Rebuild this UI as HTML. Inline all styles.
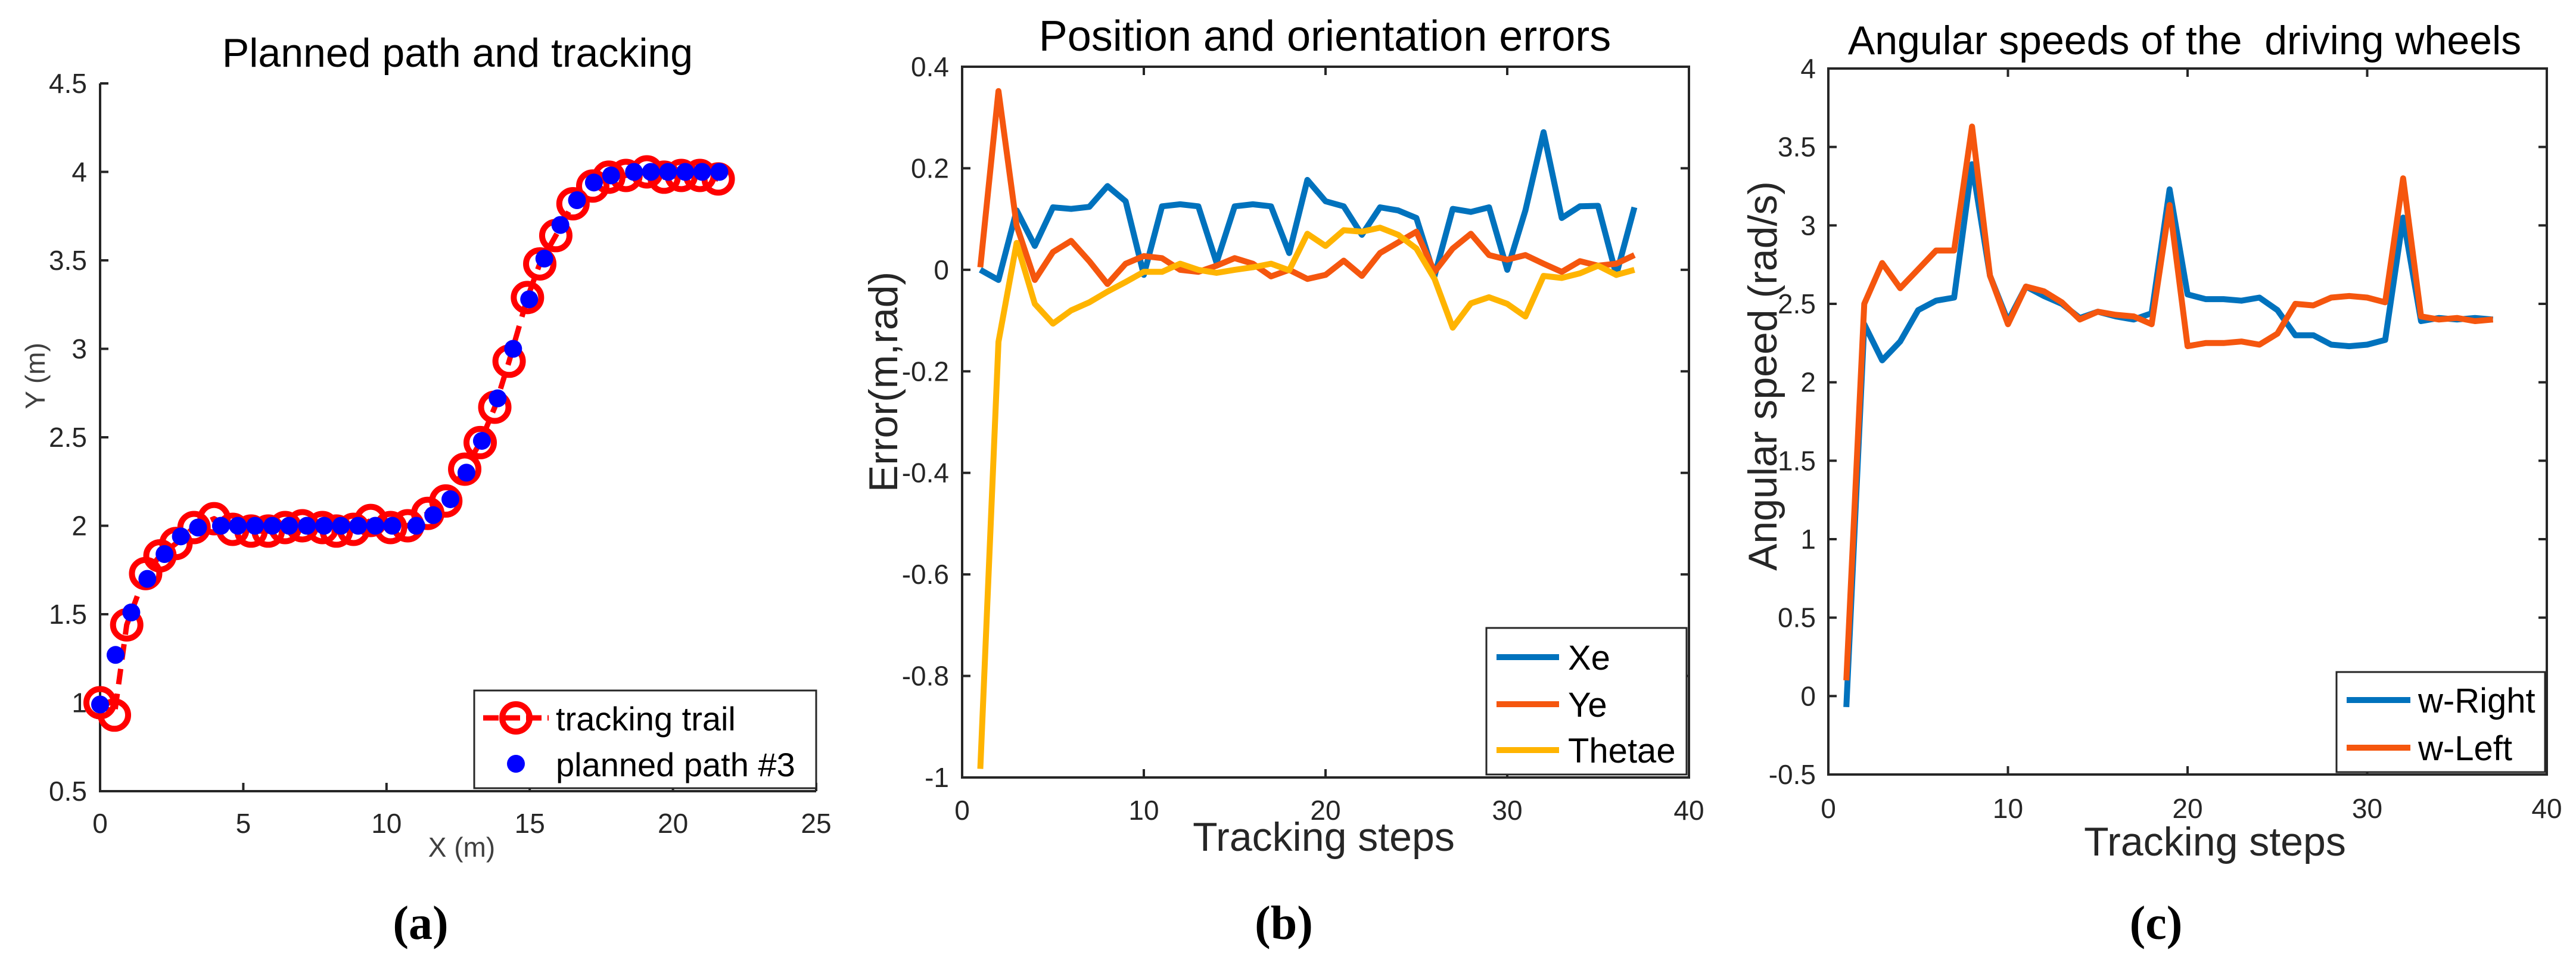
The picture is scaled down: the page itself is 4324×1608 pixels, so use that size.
<!DOCTYPE html>
<html><head><meta charset="utf-8"><style>
html,body{margin:0;padding:0;background:#fff;}
svg{display:block;font-family:"Liberation Sans",Arial,sans-serif;}
</style></head><body>
<svg id="fig" width="4324" height="1608" viewBox="0 0 4324 1608" xmlns="http://www.w3.org/2000/svg">
<rect width="4324" height="1608" fill="#fff"/>
<g id="pa"></g>
<g id="pb"></g>
<g id="pc"></g>
</svg>
<script>
// ---------- Panel (a) data ----------
const trailX = [0,0.5,0.93,1.59,2.09,2.65,3.28,3.98,4.63,5.27,5.87,6.46,7.06,7.76,8.25,8.85,9.45,10.14,10.74,11.44,12.07,12.73,13.27,13.78,14.28,14.92,15.35,15.91,16.51,17.2,17.76,18.36,19.09,19.69,20.29,20.94,21.58];
const trailY = [1.0,0.93,1.44,1.73,1.83,1.90,1.99,2.04,1.98,1.97,1.97,1.99,2.0,1.99,1.97,1.98,2.03,1.99,2.0,2.07,2.14,2.32,2.47,2.67,2.93,3.29,3.48,3.64,3.82,3.92,3.97,3.98,4.0,3.97,3.98,3.98,3.96];
const planX = [0,0.54,1.09,1.65,2.25,2.82,3.42,4.22,4.81,5.41,6.01,6.6,7.22,7.82,8.41,9.01,9.61,10.2,11.04,11.63,12.23,12.79,13.33,13.88,14.42,14.98,15.51,16.07,16.65,17.24,17.84,18.64,19.23,19.83,20.43,21.02,21.62];
const planY = [0.99,1.27,1.51,1.70,1.84,1.94,1.99,2.0,2.0,2.0,2.0,2.0,2.0,2.0,2.0,2.0,2.0,2.0,2.0,2.06,2.15,2.30,2.48,2.72,3.0,3.28,3.51,3.70,3.84,3.94,3.98,4.0,4.0,4.0,4.0,4.0,4.0];
const aXTicks = [0,5,10,15,20,25];
const aYTicks = [0.5,1,1.5,2,2.5,3,3.5,4,4.5];
const aYTickLabels = ["0.5","1","1.5","2","2.5","3","3.5","4","4.5"];

// ---------- Panel (b) data ----------
const steps = [1,2,3,4,5,6,7,8,9,10,11,12,13,14,15,16,17,18,19,20,21,22,23,24,25,26,27,28,29,30,31,32,33,34,35,36,37];
const xe = [0.0,-0.02,0.117,0.047,0.123,0.12,0.124,0.165,0.135,-0.01,0.125,0.129,0.125,0.014,0.125,0.129,0.125,0.033,0.177,0.135,0.125,0.069,0.123,0.117,0.102,-0.012,0.12,0.114,0.123,0.0,0.117,0.271,0.102,0.125,0.126,-0.01,0.123];
const ye = [0.005,0.352,0.087,-0.02,0.035,0.057,0.017,-0.028,0.012,0.027,0.023,0.0,-0.004,0.008,0.023,0.012,-0.013,0.0,-0.018,-0.01,0.018,-0.012,0.033,0.054,0.075,-0.004,0.042,0.071,0.029,0.02,0.029,0.012,-0.004,0.017,0.008,0.012,0.029];
const thetae = [-0.983,-0.142,0.053,-0.067,-0.106,-0.08,-0.064,-0.043,-0.024,-0.004,-0.004,0.012,0.0,-0.006,0.0,0.005,0.012,-0.001,0.071,0.047,0.078,0.075,0.083,0.069,0.042,-0.018,-0.114,-0.066,-0.054,-0.067,-0.092,-0.012,-0.016,-0.007,0.008,-0.01,0.0];
const bXTicks = [0,10,20,30,40];
const bYTicks = [-1,-0.8,-0.6,-0.4,-0.2,0,0.2,0.4];
const bYTickLabels = ["-1","-0.8","-0.6","-0.4","-0.2","0","0.2","0.4"];

// ---------- Panel (c) data ----------
const wRight = [-0.07,2.37,2.14,2.26,2.46,2.52,2.54,3.39,2.68,2.39,2.61,2.55,2.5,2.41,2.45,2.42,2.40,2.44,3.23,2.56,2.53,2.53,2.52,2.54,2.46,2.30,2.30,2.24,2.23,2.24,2.27,3.05,2.39,2.41,2.40,2.41,2.40];
const wLeft = [0.10,2.50,2.76,2.60,2.72,2.84,2.84,3.63,2.68,2.37,2.61,2.58,2.51,2.40,2.45,2.43,2.42,2.37,3.13,2.23,2.25,2.25,2.26,2.24,2.31,2.50,2.49,2.54,2.55,2.54,2.51,3.30,2.42,2.40,2.41,2.39,2.40];
const cXTicks = [0,10,20,30,40];
const cYTicks = [-0.5,0,0.5,1,1.5,2,2.5,3,3.5,4];
const cYTickLabels = ["-0.5","0","0.5","1","1.5","2","2.5","3","3.5","4"];

const NS = "http://www.w3.org/2000/svg";
function mk(parent, tag, attrs, text){
  const e = document.createElementNS(NS, tag);
  for (const k in attrs) e.setAttribute(k, attrs[k]);
  if (text !== undefined) e.textContent = text;
  parent.appendChild(e);
  return e;
}
function lin(d0,d1,r0,r1){ return v => r0 + (v-d0)/(d1-d0)*(r1-r0); }
const AX = "#262626";

function axes(g, L, R, T, B, sx, sy, xt, xtl, yt, ytl, box, xLabY, yLabX){
  let e;
  if (box){
    e = mk(g,'rect',{x:L,y:T,width:R-L,height:B-T,fill:'none',stroke:AX,'stroke-width':4});
     
  } else {
    e = mk(g,'path',{d:`M${L},${T} L${L},${B} L${R},${B}`,fill:'none',stroke:AX,'stroke-width':4});
     
  }
  xt.forEach((v,i)=>{
    const x = sx(v);
    e = mk(g,'line',{x1:x,y1:B,x2:x,y2:B-14,stroke:AX,'stroke-width':4});
     
    if (box){ e = mk(g,'line',{x1:x,y1:T,x2:x,y2:T+14,stroke:AX,'stroke-width':4});
        }
    e = mk(g,'text',{x:x,y:xLabY,'font-size':46,fill:AX,'text-anchor':'middle'},xtl[i]);
     
  });
  yt.forEach((v,i)=>{
    const y = sy(v);
    e = mk(g,'line',{x1:L,y1:y,x2:L+14,y2:y,stroke:AX,'stroke-width':4});
     
    if (box){ e = mk(g,'line',{x1:R,y1:y,x2:R-14,y2:y,stroke:AX,'stroke-width':4});
        }
    e = mk(g,'text',{x:yLabX,y:y+16,'font-size':46,fill:AX,'text-anchor':'end'},ytl[i]);
     
  });
}
function txt(g,x,y,s,size,name,extra){
  const a = Object.assign({x:x,y:y,'font-size':size,'text-anchor':'middle',fill:'#000'},extra||{});
  const e = mk(g,'text',a,s);
   
  return e;
}
function poly(g,xs,ys,sx,sy,color,w,name,dash){
  const pts = xs.map((x,i)=>sx(x).toFixed(1)+','+sy(ys[i]).toFixed(1)).join(' ');
  const a = {points:pts,fill:'none',stroke:color,'stroke-width':w,'stroke-linejoin':'round'};
  if (dash) a['stroke-dasharray']=dash;
  const e = mk(g,'polyline',a);
   
}

// ================= Panel (a) =================
(function(){
  const g = document.getElementById('pa');
  const L=168,R=1370,T=140,B=1328;
  const sx = lin(0,25,L,R), sy = lin(0.5,4.5,B,T);
  axes(g,L,R,T,B,sx,sy,aXTicks,aXTicks.map(String),aYTicks,aYTickLabels,false,1398,146);
  txt(g,768,112,'Planned path and tracking',68,'panel-a-title');
  txt(g,775,1438,'X (m)',46,'x-axis-title',{fill:'#404040'});
  let e = txt(g,0,0,'Y (m)',46,'y-axis-title',{fill:'#404040',transform:'translate(75,631) rotate(-90)'});
  poly(g,trailX,trailY,sx,sy,'#ff0000',9,'tracking-trail-line','26,16');
  trailX.forEach((x,i)=>{
    e = mk(g,'circle',{cx:sx(x),cy:sy(trailY[i]),r:23,fill:'none',stroke:'#ff0000','stroke-width':10});
     
  });
  planX.forEach((x,i)=>{
    e = mk(g,'circle',{cx:sx(x),cy:sy(planY[i]),r:15,fill:'#0000ff'});
     
  });
  const lg = mk(g,'g',{});
   
  e = mk(lg,'rect',{x:796,y:1159,width:574,height:164,fill:'#fff',stroke:AX,'stroke-width':3});
   
  e = mk(lg,'line',{x1:811,y1:1205,x2:921,y2:1205,stroke:'#ff0000','stroke-width':9,'stroke-dasharray':'26,10'});
   
  e = mk(lg,'circle',{cx:866,cy:1205,r:23,fill:'none',stroke:'#ff0000','stroke-width':10});
   
  e = mk(lg,'circle',{cx:866,cy:1282,r:15,fill:'#0000ff'});
   
  txt(lg,933,1226,'tracking trail',56,'legend-entry-tracking-trail',{'text-anchor':'start'});
  txt(lg,933,1303,'planned path #3',56,'legend-entry-planned-path',{'text-anchor':'start'});
  txt(g,706,1576,'(a)',80,'caption-a',{'font-family':'"Liberation Serif",serif','font-weight':'bold'});
})();

// ================= Panel (b) =================
(function(){
  const g = document.getElementById('pb');
  const L=1615,R=2835,T=112,B=1305;
  const sx = lin(0,40,L,R), sy = lin(-1,0.4,B,T);
  axes(g,L,R,T,B,sx,sy,bXTicks,bXTicks.map(String),bYTicks,bYTickLabels,true,1376,1593);
  txt(g,2224,85,'Position and orientation errors',72,'panel-b-title');
  txt(g,2222,1428,'Tracking steps',68,'x-axis-title',{fill:AX});
  txt(g,0,0,'Error(m,rad)',68,'y-axis-title',{fill:AX,transform:'translate(1506,641) rotate(-90)'});
  poly(g,steps,xe,sx,sy,'#0072BD',10,'series-xe');
  poly(g,steps,ye,sx,sy,'#F5560E',10,'series-ye');
  poly(g,steps,thetae,sx,sy,'#FFB400',10,'series-thetae');
  const lg = mk(g,'g',{});
   
  let e = mk(lg,'rect',{x:2495,y:1054,width:336,height:246,fill:'#fff',stroke:AX,'stroke-width':3});
   
  [['Xe','#0072BD',1103],['Ye','#F5560E',1182],['Thetae','#FFB400',1259]].forEach(([n,c,y])=>{
    e = mk(lg,'line',{x1:2512,y1:y,x2:2617,y2:y,stroke:c,'stroke-width':10});
     
    txt(lg,2632,y+21,n,58,'legend-entry-'+n.toLowerCase(),{'text-anchor':'start'});
  });
  txt(g,2155,1576,'(b)',80,'caption-b',{'font-family':'"Liberation Serif",serif','font-weight':'bold'});
})();

// ================= Panel (c) =================
(function(){
  const g = document.getElementById('pc');
  const L=3069,R=4275,T=115,B=1300;
  const sx = lin(0,40,L,R), sy = lin(-0.5,4,B,T);
  axes(g,L,R,T,B,sx,sy,cXTicks,cXTicks.map(String),cYTicks,cYTickLabels,true,1373,3048);
  txt(g,3667,91,'Angular speeds of the\u00a0\u00a0driving wheels',68,'panel-c-title');
  txt(g,3718,1436,'Tracking steps',68,'x-axis-title',{fill:AX});
  txt(g,0,0,'Angular speed (rad/s)',68,'y-axis-title',{fill:AX,transform:'translate(2982,631) rotate(-90)'});
  poly(g,steps,wRight,sx,sy,'#0072BD',10,'series-w-right');
  poly(g,steps,wLeft,sx,sy,'#F5560E',10,'series-w-left');
  const lg = mk(g,'g',{});
   
  let e = mk(lg,'rect',{x:3922,y:1128,width:350,height:168,fill:'#fff',stroke:AX,'stroke-width':3});
   
  [['w-Right','#0072BD',1175],['w-Left','#F5560E',1255]].forEach(([n,c,y])=>{
    e = mk(lg,'line',{x1:3939,y1:y,x2:4046,y2:y,stroke:c,'stroke-width':10});
     
    txt(lg,4059,y+21,n,58,'legend-entry-'+n.toLowerCase(),{'text-anchor':'start'});
  });
  txt(g,3619,1576,'(c)',80,'caption-c',{'font-family':'"Liberation Serif",serif','font-weight':'bold'});
})();
</script>
</body></html>
